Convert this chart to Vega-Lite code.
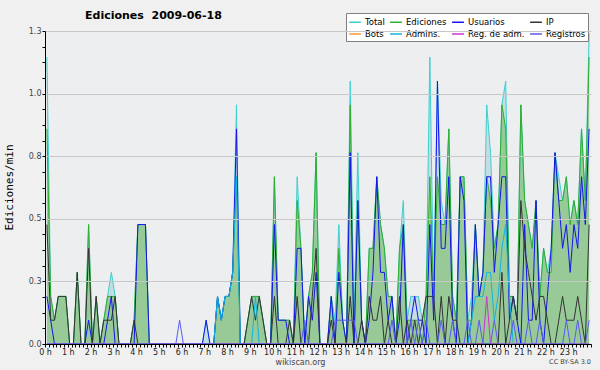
{
"$schema": "https://vega.github.io/schema/vega-lite/v6.json",
"width": 546, "height": 313,
"autosize": {"type": "none"},
"padding": {"left": 45, "top": 31, "right": 9, "bottom": 26},
"background": "#f0f0f0",
"config": {"view": {"stroke": null, "fill": "#eceef0"}, "font": "DejaVu Sans"},
"title": {"text": "Ediciones\u00a0 2009-06-18", "anchor": "start", "frame": "group", "dx": 40, "dy": 18, "fontSize": 11, "fontWeight": "bold", "font": "DejaVu Sans", "color": "#000", "offset": 10},
"data": {"values": [
{"t":5,"tot":1.146,"edi":0.859,"usu":0.19,"ip":0.477,"adm":0,"rda":0,"reg":0},
{"t":15,"tot":0.19,"edi":0.19,"usu":0.095,"ip":0.095,"adm":0,"rda":0,"reg":0},
{"t":25,"tot":0.095,"edi":0.095,"usu":0,"ip":0.095,"adm":0,"rda":0,"reg":0},
{"t":35,"tot":0.19,"edi":0.19,"usu":0,"ip":0.19,"adm":0,"rda":0,"reg":0},
{"t":45,"tot":0.19,"edi":0.19,"usu":0,"ip":0.19,"adm":0,"rda":0,"reg":0},
{"t":55,"tot":0.19,"edi":0.19,"usu":0,"ip":0.19,"adm":0,"rda":0,"reg":0},
{"t":65,"tot":0,"edi":0,"usu":0,"ip":0,"adm":0,"rda":0,"reg":0},
{"t":75,"tot":0,"edi":0,"usu":0,"ip":0,"adm":0,"rda":0,"reg":0},
{"t":85,"tot":0.286,"edi":0.286,"usu":0,"ip":0.286,"adm":0,"rda":0,"reg":0},
{"t":95,"tot":0,"edi":0,"usu":0,"ip":0,"adm":0,"rda":0,"reg":0},
{"t":105,"tot":0,"edi":0,"usu":0,"ip":0,"adm":0,"rda":0,"reg":0},
{"t":115,"tot":0.477,"edi":0.477,"usu":0.095,"ip":0.382,"adm":0,"rda":0,"reg":0},
{"t":125,"tot":0,"edi":0,"usu":0,"ip":0,"adm":0,"rda":0,"reg":0},
{"t":135,"tot":0.19,"edi":0.19,"usu":0,"ip":0.19,"adm":0,"rda":0,"reg":0},
{"t":145,"tot":0,"edi":0,"usu":0,"ip":0,"adm":0,"rda":0,"reg":0},
{"t":155,"tot":0.095,"edi":0.095,"usu":0,"ip":0.095,"adm":0,"rda":0,"reg":0},
{"t":165,"tot":0.19,"edi":0.19,"usu":0.095,"ip":0.095,"adm":0,"rda":0,"reg":0},
{"t":175,"tot":0.286,"edi":0.19,"usu":0.19,"ip":0.095,"adm":0,"rda":0,"reg":0},
{"t":185,"tot":0.19,"edi":0.19,"usu":0,"ip":0.19,"adm":0,"rda":0,"reg":0},
{"t":195,"tot":0,"edi":0,"usu":0,"ip":0,"adm":0,"rda":0,"reg":0},
{"t":205,"tot":0,"edi":0,"usu":0,"ip":0,"adm":0,"rda":0,"reg":0},
{"t":215,"tot":0,"edi":0,"usu":0,"ip":0,"adm":0,"rda":0,"reg":0},
{"t":225,"tot":0,"edi":0,"usu":0,"ip":0,"adm":0,"rda":0,"reg":0},
{"t":235,"tot":0.095,"edi":0.095,"usu":0,"ip":0.095,"adm":0,"rda":0,"reg":0},
{"t":245,"tot":0.477,"edi":0.477,"usu":0.477,"ip":0,"adm":0,"rda":0,"reg":0},
{"t":255,"tot":0.477,"edi":0.477,"usu":0.477,"ip":0,"adm":0,"rda":0,"reg":0},
{"t":265,"tot":0.477,"edi":0.477,"usu":0.477,"ip":0,"adm":0,"rda":0,"reg":0},
{"t":275,"tot":0,"edi":0,"usu":0,"ip":0,"adm":0,"rda":0,"reg":0},
{"t":285,"tot":0,"edi":0,"usu":0,"ip":0,"adm":0,"rda":0,"reg":0},
{"t":295,"tot":0,"edi":0,"usu":0,"ip":0,"adm":0,"rda":0,"reg":0},
{"t":305,"tot":0,"edi":0,"usu":0,"ip":0,"adm":0,"rda":0,"reg":0},
{"t":315,"tot":0,"edi":0,"usu":0,"ip":0,"adm":0,"rda":0,"reg":0},
{"t":325,"tot":0,"edi":0,"usu":0,"ip":0,"adm":0,"rda":0,"reg":0},
{"t":335,"tot":0,"edi":0,"usu":0,"ip":0,"adm":0,"rda":0,"reg":0},
{"t":345,"tot":0,"edi":0,"usu":0,"ip":0,"adm":0,"rda":0,"reg":0},
{"t":355,"tot":0,"edi":0,"usu":0,"ip":0,"adm":0,"rda":0,"reg":0.095},
{"t":365,"tot":0,"edi":0,"usu":0,"ip":0,"adm":0,"rda":0,"reg":0},
{"t":375,"tot":0,"edi":0,"usu":0,"ip":0,"adm":0,"rda":0,"reg":0},
{"t":385,"tot":0,"edi":0,"usu":0,"ip":0,"adm":0,"rda":0,"reg":0},
{"t":395,"tot":0,"edi":0,"usu":0,"ip":0,"adm":0,"rda":0,"reg":0},
{"t":405,"tot":0,"edi":0,"usu":0,"ip":0,"adm":0,"rda":0,"reg":0},
{"t":415,"tot":0,"edi":0,"usu":0,"ip":0,"adm":0,"rda":0,"reg":0},
{"t":425,"tot":0.095,"edi":0,"usu":0.095,"ip":0,"adm":0,"rda":0,"reg":0},
{"t":435,"tot":0,"edi":0,"usu":0,"ip":0,"adm":0,"rda":0,"reg":0},
{"t":445,"tot":0,"edi":0,"usu":0,"ip":0,"adm":0,"rda":0,"reg":0},
{"t":455,"tot":0.19,"edi":0.19,"usu":0.19,"ip":0,"adm":0.19,"rda":0,"reg":0},
{"t":465,"tot":0.095,"edi":0.095,"usu":0.095,"ip":0,"adm":0.095,"rda":0,"reg":0},
{"t":475,"tot":0.19,"edi":0.19,"usu":0.19,"ip":0,"adm":0.19,"rda":0,"reg":0},
{"t":485,"tot":0.19,"edi":0.19,"usu":0.19,"ip":0,"adm":0.19,"rda":0,"reg":0},
{"t":495,"tot":0.286,"edi":0.286,"usu":0.286,"ip":0,"adm":0.286,"rda":0,"reg":0},
{"t":505,"tot":0.955,"edi":0.668,"usu":0.859,"ip":0,"adm":0.668,"rda":0,"reg":0},
{"t":515,"tot":0,"edi":0,"usu":0,"ip":0,"adm":0,"rda":0,"reg":0},
{"t":525,"tot":0,"edi":0,"usu":0,"ip":0,"adm":0,"rda":0,"reg":0},
{"t":535,"tot":0.095,"edi":0.095,"usu":0,"ip":0.095,"adm":0,"rda":0,"reg":0},
{"t":545,"tot":0.19,"edi":0.19,"usu":0,"ip":0.19,"adm":0,"rda":0,"reg":0},
{"t":555,"tot":0.19,"edi":0.19,"usu":0,"ip":0.095,"adm":0.19,"rda":0,"reg":0},
{"t":565,"tot":0.19,"edi":0.19,"usu":0,"ip":0.19,"adm":0,"rda":0,"reg":0},
{"t":575,"tot":0.095,"edi":0.095,"usu":0,"ip":0.095,"adm":0,"rda":0,"reg":0},
{"t":585,"tot":0,"edi":0,"usu":0,"ip":0,"adm":0,"rda":0,"reg":0},
{"t":595,"tot":0,"edi":0,"usu":0,"ip":0,"adm":0,"rda":0,"reg":0},
{"t":605,"tot":0.668,"edi":0.668,"usu":0.477,"ip":0.19,"adm":0,"rda":0,"reg":0},
{"t":615,"tot":0.095,"edi":0.095,"usu":0.095,"ip":0,"adm":0,"rda":0,"reg":0},
{"t":625,"tot":0.095,"edi":0.095,"usu":0.095,"ip":0,"adm":0,"rda":0,"reg":0},
{"t":635,"tot":0.095,"edi":0.095,"usu":0.095,"ip":0,"adm":0,"rda":0,"reg":0},
{"t":645,"tot":0.095,"edi":0.095,"usu":0,"ip":0.095,"adm":0,"rda":0,"reg":0},
{"t":655,"tot":0,"edi":0,"usu":0,"ip":0,"adm":0,"rda":0,"reg":0},
{"t":665,"tot":0.668,"edi":0.573,"usu":0.382,"ip":0.19,"adm":0,"rda":0,"reg":0},
{"t":675,"tot":0.382,"edi":0.382,"usu":0.382,"ip":0,"adm":0,"rda":0,"reg":0},
{"t":685,"tot":0,"edi":0,"usu":0,"ip":0,"adm":0,"rda":0,"reg":0.095},
{"t":695,"tot":0.19,"edi":0.19,"usu":0.19,"ip":0,"adm":0,"rda":0,"reg":0},
{"t":705,"tot":0.286,"edi":0.286,"usu":0.095,"ip":0.19,"adm":0,"rda":0,"reg":0},
{"t":715,"tot":0.764,"edi":0.764,"usu":0.286,"ip":0.382,"adm":0,"rda":0,"reg":0},
{"t":725,"tot":0,"edi":0,"usu":0,"ip":0,"adm":0,"rda":0,"reg":0},
{"t":735,"tot":0,"edi":0,"usu":0,"ip":0,"adm":0,"rda":0,"reg":0},
{"t":745,"tot":0,"edi":0,"usu":0,"ip":0,"adm":0,"rda":0,"reg":0},
{"t":755,"tot":0.19,"edi":0.19,"usu":0.19,"ip":0.095,"adm":0,"rda":0,"reg":0},
{"t":765,"tot":0.095,"edi":0,"usu":0,"ip":0,"adm":0,"rda":0,"reg":0.095},
{"t":775,"tot":0.477,"edi":0.382,"usu":0.286,"ip":0,"adm":0,"rda":0,"reg":0.095},
{"t":785,"tot":0.095,"edi":0.095,"usu":0.095,"ip":0,"adm":0,"rda":0,"reg":0.095},
{"t":795,"tot":0,"edi":0,"usu":0,"ip":0,"adm":0,"rda":0,"reg":0.095},
{"t":805,"tot":1.05,"edi":0.955,"usu":0.764,"ip":0.19,"adm":0,"rda":0,"reg":0.095},
{"t":815,"tot":0.095,"edi":0,"usu":0,"ip":0,"adm":0,"rda":0,"reg":0.095},
{"t":825,"tot":0.764,"edi":0.573,"usu":0.573,"ip":0,"adm":0,"rda":0,"reg":0},
{"t":835,"tot":0.095,"edi":0.095,"usu":0.095,"ip":0.095,"adm":0,"rda":0,"reg":0},
{"t":845,"tot":0,"edi":0,"usu":0,"ip":0,"adm":0,"rda":0,"reg":0},
{"t":855,"tot":0.382,"edi":0.382,"usu":0.095,"ip":0.19,"adm":0,"rda":0,"reg":0},
{"t":865,"tot":0.382,"edi":0.382,"usu":0.286,"ip":0.095,"adm":0,"rda":0,"reg":0},
{"t":875,"tot":0.668,"edi":0.668,"usu":0.668,"ip":0.095,"adm":0,"rda":0,"reg":0},
{"t":885,"tot":0.477,"edi":0.477,"usu":0.286,"ip":0.19,"adm":0,"rda":0,"reg":0},
{"t":895,"tot":0.382,"edi":0.382,"usu":0.286,"ip":0,"adm":0,"rda":0,"reg":0},
{"t":905,"tot":0.19,"edi":0.19,"usu":0.095,"ip":0.095,"adm":0,"rda":0,"reg":0},
{"t":915,"tot":0.19,"edi":0.19,"usu":0.19,"ip":0,"adm":0,"rda":0,"reg":0.095},
{"t":925,"tot":0,"edi":0,"usu":0,"ip":0,"adm":0,"rda":0,"reg":0},
{"t":935,"tot":0.382,"edi":0.382,"usu":0.095,"ip":0.19,"adm":0,"rda":0,"reg":0},
{"t":945,"tot":0.573,"edi":0.477,"usu":0.477,"ip":0,"adm":0,"rda":0,"reg":0},
{"t":955,"tot":0.095,"edi":0.095,"usu":0,"ip":0.095,"adm":0,"rda":0,"reg":0},
{"t":965,"tot":0.19,"edi":0.095,"usu":0.095,"ip":0,"adm":0,"rda":0,"reg":0.095},
{"t":975,"tot":0.19,"edi":0.095,"usu":0.19,"ip":0.095,"adm":0,"rda":0,"reg":0},
{"t":985,"tot":0.19,"edi":0.095,"usu":0.095,"ip":0,"adm":0,"rda":0,"reg":0.095},
{"t":995,"tot":0.095,"edi":0,"usu":0.095,"ip":0.095,"adm":0,"rda":0,"reg":0},
{"t":1005,"tot":0.19,"edi":0.19,"usu":0,"ip":0.19,"adm":0,"rda":0,"reg":0.095},
{"t":1015,"tot":1.146,"edi":0.668,"usu":0.477,"ip":0.19,"adm":0,"rda":0,"reg":0},
{"t":1025,"tot":0.19,"edi":0.19,"usu":0.095,"ip":0.19,"adm":0,"rda":0,"reg":0},
{"t":1035,"tot":1.05,"edi":0.668,"usu":1.05,"ip":0,"adm":0,"rda":0,"reg":0},
{"t":1045,"tot":0.573,"edi":0.477,"usu":0.382,"ip":0.19,"adm":0,"rda":0,"reg":0.095},
{"t":1055,"tot":0.477,"edi":0.477,"usu":0.382,"ip":0,"adm":0,"rda":0,"reg":0},
{"t":1065,"tot":0.859,"edi":0.859,"usu":0.668,"ip":0.19,"adm":0,"rda":0,"reg":0},
{"t":1075,"tot":0.19,"edi":0.19,"usu":0.095,"ip":0.095,"adm":0,"rda":0,"reg":0.095},
{"t":1085,"tot":0.095,"edi":0.095,"usu":0,"ip":0.095,"adm":0,"rda":0,"reg":0},
{"t":1095,"tot":0.668,"edi":0.668,"usu":0.668,"ip":0,"adm":0,"rda":0,"reg":0},
{"t":1105,"tot":0.668,"edi":0.668,"usu":0.573,"ip":0,"adm":0,"rda":0,"reg":0},
{"t":1115,"tot":0.095,"edi":0.095,"usu":0,"ip":0,"adm":0,"rda":0,"reg":0.095},
{"t":1125,"tot":0.19,"edi":0.095,"usu":0.095,"ip":0,"adm":0.095,"rda":0,"reg":0},
{"t":1135,"tot":0.477,"edi":0.477,"usu":0.477,"ip":0,"adm":0.19,"rda":0,"reg":0},
{"t":1145,"tot":0.19,"edi":0.19,"usu":0.19,"ip":0,"adm":0.19,"rda":0,"reg":0.095},
{"t":1155,"tot":0.286,"edi":0.286,"usu":0.286,"ip":0,"adm":0.19,"rda":0,"reg":0},
{"t":1165,"tot":0.955,"edi":0.668,"usu":0.668,"ip":0,"adm":0.286,"rda":0.19,"reg":0},
{"t":1175,"tot":0.764,"edi":0.573,"usu":0.668,"ip":0,"adm":0.286,"rda":0,"reg":0},
{"t":1185,"tot":0.382,"edi":0.382,"usu":0.286,"ip":0,"adm":0.095,"rda":0,"reg":0.095},
{"t":1195,"tot":0.477,"edi":0.477,"usu":0.477,"ip":0,"adm":0.19,"rda":0,"reg":0},
{"t":1205,"tot":0.955,"edi":0.955,"usu":0.668,"ip":0.286,"adm":0.382,"rda":0,"reg":0},
{"t":1215,"tot":1.05,"edi":0.859,"usu":0.668,"ip":0,"adm":0.477,"rda":0,"reg":0},
{"t":1225,"tot":0.19,"edi":0.19,"usu":0.095,"ip":0.095,"adm":0.19,"rda":0,"reg":0},
{"t":1235,"tot":0.19,"edi":0.19,"usu":0.19,"ip":0.19,"adm":0,"rda":0,"reg":0.095},
{"t":1245,"tot":0.095,"edi":0.095,"usu":0.095,"ip":0.095,"adm":0,"rda":0,"reg":0},
{"t":1255,"tot":0.955,"edi":0.955,"usu":0,"ip":0.573,"adm":0,"rda":0,"reg":0},
{"t":1265,"tot":0.573,"edi":0.573,"usu":0.477,"ip":0.382,"adm":0,"rda":0,"reg":0},
{"t":1275,"tot":0.477,"edi":0.477,"usu":0.095,"ip":0.286,"adm":0,"rda":0,"reg":0.095},
{"t":1285,"tot":0.382,"edi":0.382,"usu":0.095,"ip":0.19,"adm":0,"rda":0,"reg":0},
{"t":1295,"tot":0.573,"edi":0.573,"usu":0.573,"ip":0.095,"adm":0,"rda":0,"reg":0},
{"t":1305,"tot":0.19,"edi":0.19,"usu":0.095,"ip":0.19,"adm":0,"rda":0,"reg":0.095},
{"t":1315,"tot":0.382,"edi":0.382,"usu":0,"ip":0.19,"adm":0,"rda":0,"reg":0},
{"t":1325,"tot":0.286,"edi":0.286,"usu":0.19,"ip":0.095,"adm":0,"rda":0,"reg":0},
{"t":1335,"tot":0.382,"edi":0.286,"usu":0.382,"ip":0,"adm":0,"rda":0,"reg":0},
{"t":1345,"tot":0.764,"edi":0.764,"usu":0.764,"ip":0,"adm":0,"rda":0,"reg":0},
{"t":1355,"tot":0.668,"edi":0.573,"usu":0.573,"ip":0.095,"adm":0,"rda":0,"reg":0},
{"t":1365,"tot":0.573,"edi":0.573,"usu":0.382,"ip":0.19,"adm":0,"rda":0,"reg":0},
{"t":1375,"tot":0.668,"edi":0.668,"usu":0.477,"ip":0.095,"adm":0,"rda":0,"reg":0.095},
{"t":1385,"tot":0.477,"edi":0.477,"usu":0.286,"ip":0.095,"adm":0,"rda":0,"reg":0},
{"t":1395,"tot":0.573,"edi":0.573,"usu":0.477,"ip":0.095,"adm":0,"rda":0,"reg":0},
{"t":1405,"tot":0.477,"edi":0.477,"usu":0.382,"ip":0.19,"adm":0,"rda":0,"reg":0.095},
{"t":1415,"tot":0.859,"edi":0.859,"usu":0.668,"ip":0.095,"adm":0,"rda":0,"reg":0},
{"t":1425,"tot":0.573,"edi":0.573,"usu":0.477,"ip":0,"adm":0,"rda":0,"reg":0},
{"t":1435,"tot":1.241,"edi":1.146,"usu":0.859,"ip":0.477,"adm":0,"rda":0,"reg":0.095}
]},
"transform": [{"fold": ["tot", "edi", "usu", "ip", "adm", "rda", "reg"], "as": ["k", "v"]}],
"encoding": {
  "x": {"field": "t", "type": "quantitative", "scale": {"domain": [0, 1440], "nice": false, "zero": false},
    "axis": {"tickCount": 144, "labelExpr": "datum.value % 60 === 0 && datum.value < 1440 ? (datum.value / 60) + ' h' : ''", "labelOverlap": false, "labelFlush": false, "grid": false, "domainColor": "#000", "tickColor": "#000", "tickSize": 3, "labelFontSize": 8, "labelColor": "#222", "labelPadding": 1, "title": "wikiscan.org", "titleFontSize": 8, "titleFontWeight": "normal", "titleColor": "#444", "titleX": 255, "titleY": 18, "titleBaseline": "middle", "zindex": 1}},
  "y": {"field": "v", "type": "quantitative", "scale": {"domain": [0, 1.25], "nice": false},
    "axis": {"values": [0,0.0625,0.125,0.1875,0.25,0.3125,0.375,0.4375,0.5,0.5625,0.625,0.6875,0.75,0.8125,0.875,0.9375,1,1.0625,1.125,1.1875,1.25],
      "labelExpr": "(datum.value * 4) % 1 === 0 ? format(datum.value, '.1f') : ''",
      "labelOverlap": false, "labelFlush": false,
      "gridColor": {"condition": {"test": "(datum.value * 4) % 1 === 0", "value": "#c8c8c8"}, "value": "transparent"},
      "domainColor": "#000", "tickColor": "#000", "tickSize": 3, "labelFontSize": 8, "labelColor": "#444", "labelPadding": 1,
      "title": "Ediciones/min", "titleFont": "DejaVu Sans Mono", "titleFontSize": 11, "titleFontWeight": "normal", "titleColor": "#000", "titleX": -36, "titleY": 156, "titleBaseline": "middle", "titleAlign": "center", "zindex": 1}}
},
"layer": [
  {"transform": [{"filter": "datum.k === 'tot'"}], "mark": {"type": "area", "color": "#c4dde3"}},
  {"transform": [{"filter": "datum.k === 'edi'"}], "mark": {"type": "area", "color": "#98ca98"}},
  {"mark": {"type": "line", "strokeWidth": 1},
   "encoding": {"color": {"field": "k", "type": "nominal",
     "scale": {"domain": ["tot", "edi", "usu", "ip", "bot", "adm", "rda", "reg"],
               "range": ["#3dcfcf", "#2fae2f", "#1414f0", "#333333", "#ff9933", "#12b4de", "#cc33cc", "#5a5af0"]},
     "legend": {"orient": "none", "legendX": 301, "legendY": -18, "columns": 4, "direction": "horizontal", "title": null,
       "symbolType": "stroke", "symbolStrokeWidth": 1.5, "symbolSize": 140, "symbolOpacity": 1, "labelFontSize": 8.5, "labelFont": "DejaVu Sans", "labelColor": "#000",
       "fillColor": "#ffffff", "strokeColor": "#808080", "padding": 2, "columnPadding": 2, "rowPadding": 0, "labelOffset": 3,
       "labelExpr": "datum.label === 'tot' ? 'Total' : datum.label === 'edi' ? 'Ediciones' : datum.label === 'usu' ? 'Usuarios' : datum.label === 'ip' ? 'IP' : datum.label === 'bot' ? 'Bots' : datum.label === 'adm' ? 'Admins.' : datum.label === 'rda' ? 'Reg. de adm.' : 'Registros'"}}}},
  {"transform": [{"filter": "datum.t === 1435 && datum.k === 'tot'"}],
   "mark": {"type": "text", "text": "CC BY-SA 3.0", "align": "right", "baseline": "middle", "dy": 18, "fontSize": 6.5, "color": "#444"},
   "encoding": {"x": {"datum": 1440}, "y": {"datum": 0}}}
]
}
